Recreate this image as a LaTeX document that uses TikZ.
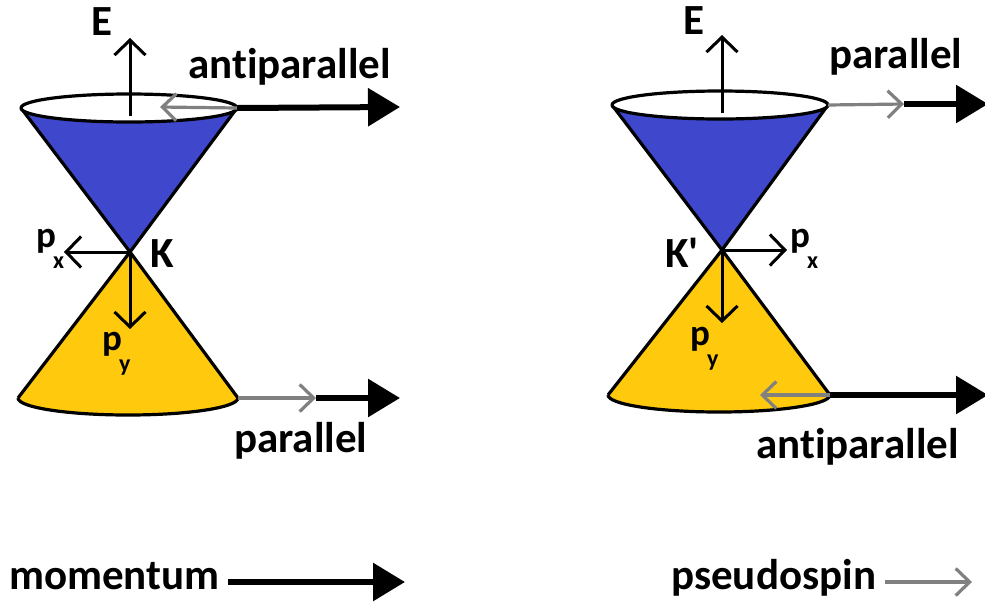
\documentclass[tikz,border=0pt]{standalone}
\usepackage{fontspec}
\setmainfont{Carlito}[Ligatures=NoCommon]
\usetikzlibrary{arrows.meta}
\definecolor{coneblue}{HTML}{3F48CC}
\definecolor{coneyellow}{HTML}{FFC90E}
\definecolor{spingray}{HTML}{808080}
\newcommand{\pvar}[1]{p\kern-3pt\raisebox{-21pt}{\fontsize{24}{24}\selectfont #1}}
\tikzset{
  conepath/.style={draw=black, line width=3.2pt, line join=round},
  mom/.style={line width=6pt, -{Triangle[length=32pt,width=37pt]}},
  spin/.style={draw=spingray, line width=3.2pt, -{Straight Barb[length=14pt,width=27pt]}},
  axisarrow/.style={line width=3pt, -{Straight Barb[length=15pt,width=31pt]}},
  lbl/.style={font=\fontsize{43}{43}\selectfont\bfseries, inner sep=0pt, anchor=base west},
  plbl/.style={font=\fontsize{37}{37}\selectfont\bfseries, inner sep=0pt, anchor=base west},
}
\begin{document}
\begin{tikzpicture}[x=1pt,y=-1pt]
\useasboundingbox (0,0) rectangle (985,606);
% ---------------- left panel (K) ----------------
\coordinate (Ka) at (130,252);
\coordinate (Ktc) at (129,108);
\coordinate (KtL) at (21,108);
\coordinate (KtR) at (237,108);
\coordinate (KbL) at (18,398);
\coordinate (KbR) at (238,398);
\fill[coneblue] (KtL) -- (Ka) -- (KtR) -- cycle;
\draw[conepath] (KtL) -- (Ka) -- (KtR);
\draw[conepath, fill=white] (Ktc) ellipse [x radius=108pt, y radius=14pt];
\fill[coneyellow] (KbL) -- (Ka) -- (KbR) arc[start angle=0, end angle=-180, x radius=110pt, y radius=17pt] -- cycle;
\draw[conepath] (KbL) -- (Ka) -- (KbR) arc[start angle=0, end angle=-180, x radius=110pt, y radius=17pt];
\coordinate (KEs) at (130,116);
\coordinate (KEe) at (130,38);
\draw[axisarrow] (KEs) -- (KEe);
\coordinate (Kpx) at (64,252);
\coordinate (Kpy) at (130,329);
\draw[axisarrow] (Ka) -- (Kpx);
\draw[axisarrow] (Ka) -- (Kpy);
\coordinate (KtArrow) at (400,107);
\coordinate (KtSpin) at (160,107);
\draw[mom] (KtR) -- (KtArrow);
\draw[spin] (KtR) -- (KtSpin);
\coordinate (KbSpin) at (316,398);
\coordinate (KbArrow) at (400,398);
\draw[mom] (KbSpin) -- (KbArrow);
\draw[spin] (KbR) -- (KbSpin);
\node[lbl] (KElbl) at (91,35) {E};
\node[lbl] (Klbl) at (150,267) {K};
\node[plbl] (Kpxl) at (36,247) {\pvar{x}};
\node[plbl] (Kpyl) at (102,350) {\pvar{y}};
\node[lbl] (Ktlbl) at (188,78) {antiparallel};
\node[lbl] (Kblbl) at (234,452) {parallel};
% ---------------- right panel (K') ----------------
\coordinate (Pa) at (722,250);
\coordinate (Ptc) at (720,105);
\coordinate (PtL) at (612,105);
\coordinate (PtR) at (828,105);
\coordinate (PbL) at (608,395);
\coordinate (PbR) at (830,395);
\fill[coneblue] (PtL) -- (Pa) -- (PtR) -- cycle;
\draw[conepath] (PtL) -- (Pa) -- (PtR);
\draw[conepath, fill=white] (Ptc) ellipse [x radius=108pt, y radius=14pt];
\fill[coneyellow] (PbL) -- (Pa) -- (PbR) arc[start angle=0, end angle=-180, x radius=111pt, y radius=17pt] -- cycle;
\draw[conepath] (PbL) -- (Pa) -- (PbR) arc[start angle=0, end angle=-180, x radius=111pt, y radius=17pt];
\coordinate (PEs) at (722,113);
\coordinate (PEe) at (722,35);
\draw[axisarrow] (PEs) -- (PEe);
\coordinate (Ppx) at (787,250);
\coordinate (Ppy) at (722,323);
\draw[axisarrow] (Pa) -- (Ppx);
\draw[axisarrow] (Pa) -- (Ppy);
\coordinate (PtSpin) at (904,104);
\coordinate (PtArrow) at (988,104);
\draw[mom] (PtSpin) -- (PtArrow);
\draw[spin] (PtR) -- (PtSpin);
\coordinate (PbSpin) at (760,395);
\coordinate (PbArrow) at (988,395);
\draw[mom] (PbR) -- (PbArrow);
\draw[spin] (PbR) -- (PbSpin);
\node[lbl] (PElbl) at (683,34) {E};
\node[lbl] (Plbl) at (665,267) {K\textquotesingle};
\node[plbl] (Ppxl) at (790,247) {\pvar{x}};
\node[plbl] (Ppyl) at (690,345) {\pvar{y}};
\node[lbl] (Ptlbl) at (829,68) {parallel};
\node[lbl] (Pblbl) at (756,458) {antiparallel};
% ---------------- legend ----------------
\node[lbl] (momlbl) at (9,589) {momentum};
\coordinate (momS) at (228,582);
\coordinate (momE) at (405,582);
\draw[mom] (momS) -- (momE);
\node[lbl] (spinlbl) at (671,589) {pseudospin};
\coordinate (spinS) at (885,582);
\coordinate (spinE) at (972,582);
\draw[spin] (spinS) -- (spinE);
\end{tikzpicture}
\end{document}
